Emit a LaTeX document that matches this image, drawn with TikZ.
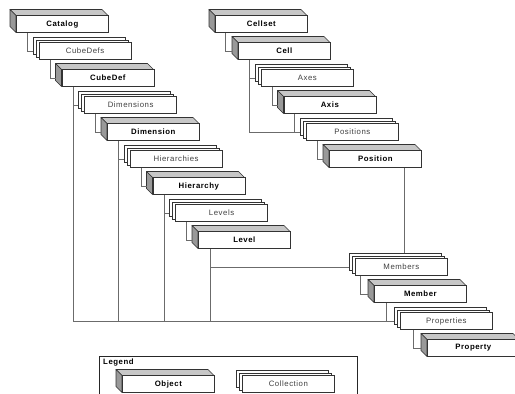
\documentclass[tikz,border=0pt]{standalone}
\usepackage{fontspec}
\setmainfont{Liberation Sans}[LetterSpace=7]
\definecolor{boxc}{gray}{0.2}
\definecolor{connc}{gray}{0.42}
\definecolor{topc}{gray}{0.78}
\definecolor{sidec}{gray}{0.6}
\definecolor{txtc}{gray}{0.25}
\definecolor{legc}{gray}{0.15}
\newcommand\ObjBox[4]{%
  \path[topface] (#2,#3-8.5) -- (#2-6,#3-14.5) -- (#2+86,#3-14.5) -- (#2+92,#3-8.5) -- cycle;
  \path[sideface] (#2,#3-8.5) -- (#2-6,#3-14.5) -- (#2-6,#3+2.5) -- (#2,#3+8.5) -- cycle;
  \node[objbox] (#1) at (#2,#3) {#4};
  \coordinate (#1-in) at (#2-6,#3);
}
\newcommand\ColBox[4]{%
  \node[colback] (#1-b) at (#2-6,#3-5) {};
  \node[colback] (#1-m) at (#2-3,#3-2.5) {};
  \node[colbox] (#1) at (#2,#3) {#4};
  \coordinate (#1-in) at (#2-6,#3);
}
\begin{document}
\begin{tikzpicture}[x=1pt,y=-1pt,
  box/.style={draw=boxc, line width=0.7pt, fill=white, minimum width=92pt,
    minimum height=17pt, inner sep=0pt, anchor=west},
  objbox/.style={box, font=\fontsize{7.8}{9}\selectfont\bfseries, text=black},
  colbox/.style={box, font=\fontsize{7.8}{9}\selectfont, text=txtc},
  colback/.style={box},
  topface/.style={draw=boxc, line width=0.7pt, fill=topc, line join=round},
  sideface/.style={draw=boxc, line width=0.7pt, fill=sidec, line join=round},
  conn/.style={draw=connc, line width=0.9pt},
]
\clip (0,0) rectangle (515,394);
\fill[white] (0,0) rectangle (515,394);

% left column
\ObjBox{catalog}{16}{24}{Catalog}
\ColBox{cubedefs}{38.75}{51}{CubeDefs}
\ObjBox{cubedef}{61.5}{78}{CubeDef}
\ColBox{dimensions}{84.25}{105}{Dimensions}
\ObjBox{dimension}{107}{132}{Dimension}
\ColBox{hierarchies}{129.75}{159}{Hierarchies}
\ObjBox{hierarchy}{152.5}{186}{Hierarchy}
\ColBox{levels}{175.25}{213}{Levels}
\ObjBox{level}{198}{240}{Level}
\ColBox{members}{355}{267}{Members}
\ObjBox{member}{374}{294}{Member}
\ColBox{properties}{400}{321}{Properties}
\ObjBox{property}{427}{348}{Property}

% right column
\ObjBox{cellset}{215}{24}{Cellset}
\ObjBox{cell}{238}{51}{Cell}
\ColBox{axes}{261}{78}{Axes}
\ObjBox{axis}{283.5}{105}{Axis}
\ColBox{positions}{306}{132}{Positions}
\ObjBox{position}{329}{159}{Position}

% connectors
\draw[conn] ([xshift=11pt]catalog.south west) |- (cubedefs-in);
\draw[conn] ([xshift=12pt]cubedefs.south west) |- (cubedef-in);
\draw[conn] ([xshift=11.5pt]cubedef.south west) |- (dimensions-in);
\draw[conn] ([xshift=11.5pt]cubedef.south west) |- (properties-in);
\draw[conn] ([xshift=11.5pt]dimensions.south west) |- (dimension-in);
\draw[conn] ([xshift=11pt]dimension.south west) |- (hierarchies-in);
\draw[conn] ([xshift=11pt]dimension.south west) |- (properties-in);
\draw[conn] ([xshift=11.5pt]hierarchies.south west) |- (hierarchy-in);
\draw[conn] ([xshift=11.5pt]hierarchy.south west) |- (levels-in);
\draw[conn] ([xshift=11.5pt]hierarchy.south west) |- (properties-in);
\draw[conn] ([xshift=11.5pt]levels.south west) |- (level-in);
\draw[conn] ([xshift=12pt]level.south west) |- (members-in);
\draw[conn] ([xshift=12pt]level.south west) |- (properties-in);
\draw[conn] ([xshift=5pt]members.south west) |- (member-in);
\draw[conn] ([xshift=12pt]member.south west) |- (properties-in);
\draw[conn] ([xshift=13pt]properties.south west) |- (property-in);

\draw[conn] ([xshift=10pt]cellset.south west) |- (cell-in);
\draw[conn] ([xshift=11pt]cell.south west) |- (axes-in);
\draw[conn] ([xshift=11pt]cell.south west) |- (positions-in);
\draw[conn] ([xshift=11pt]axes.south west) |- (axis-in);
\draw[conn] ([xshift=11pt]axis.south west) |- (positions-in);
\draw[conn] ([xshift=11pt]positions.south west) |- (position-in);
\draw[conn] ([xshift=75pt]position.south west) -- ([xshift=75pt]position.south west |- members-b.north);

% legend
\node[draw=legc, line width=1.2pt, minimum width=258pt, minimum height=50pt,
  inner sep=0pt, anchor=north west] (legend) at (99,356) {};
\node[font=\fontsize{7.8}{9}\selectfont\bfseries, anchor=west, inner sep=0pt]
  (legendtitle) at (103,362) {Legend};
\ObjBox{lobject}{122}{384}{Object}
\ColBox{lcollection}{242}{384}{Collection}
\end{tikzpicture}
\end{document}
